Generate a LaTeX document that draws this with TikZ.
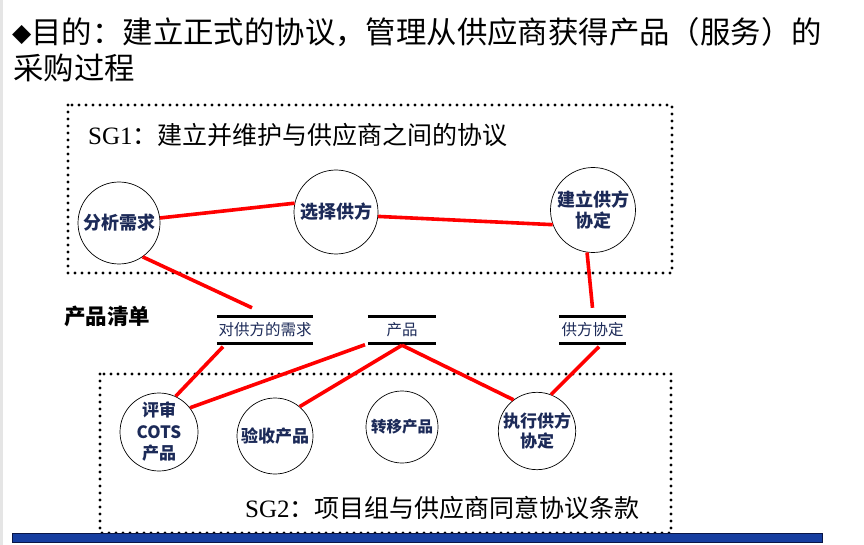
\documentclass[tikz,border=0pt]{standalone}
\usepackage{fontspec}
\setmainfont{Liberation Serif}
\newfontfamily\cjk{Noto Sans CJK SC}
\newfontfamily\dejavu{DejaVu Sans}
\usetikzlibrary{calc}
\definecolor{navy}{RGB}{28,42,88}
\definecolor{barblue}{RGB}{22,62,160}
\definecolor{bardark}{RGB}{10,22,70}
\tikzset{
  proc/.style={circle, draw=black, line width=0.7pt, inner sep=0pt, align=center,
    font=\cjk\bfseries\fontsize{18}{21.5}\selectfont, text=navy},
  docbar/.style={minimum height=27pt, inner sep=0pt, font=\cjk\fontsize{15.5}{18}\selectfont, text=navy},
  barline/.style={black, line width=3pt},
  sgbox/.style={line width=3.3pt, line cap=round, dash pattern=on 0pt off 7pt},
  link/.style={red, line width=3.6pt},
  bigtext/.style={anchor=west, inner sep=0pt, font=\cjk\fontsize{30.4}{36}\selectfont},
  sgtext/.style={anchor=west, inner sep=0pt, font=\cjk\fontsize{25}{30}\selectfont}
}
\begin{document}
\begin{tikzpicture}[x=1pt,y=-1pt]
\useasboundingbox (0,0) rectangle (864,545);
\fill[white] (0,0) rectangle (864,545);
\fill[gray!20] (0,0) rectangle (2.5,545);

% title
\node[bigtext] (t1) at (12,32) {\raisebox{1.5pt}{\dejavu\fontsize{25}{25}\selectfont ◆}目的：建立正式的协议，管理从供应商获得产品（服务）的};
\node[bigtext] (t2) at (13,68) {采购过程};

% boxes
\draw[sgbox] (68,105) rectangle (672,273);
\draw[sgbox] (100,374) rectangle (671,533);
\node[sgtext] (sg1) at (88,135) {{\rmfamily SG1}：建立并维护与供应商之间的协议};
\node[sgtext] (sg2) at (245,508) {{\rmfamily SG2}：项目组与供应商同意协议条款};

% process circles
\node[proc, minimum size=82pt] (c1) at (119,223) {分析需求};
\node[proc, minimum size=84pt] (c2) at (336,212) {选择供方};
\node[proc, minimum size=85pt] (c3) at (593,210) {建立供方\\协定};
\node[proc, minimum size=78pt, font=\cjk\bfseries\fontsize{17}{21.5}\selectfont] (c4) at (159,432) {评审\\COTS\\产品};
\node[proc, minimum size=76pt, font=\cjk\bfseries\fontsize{17}{21}\selectfont] (c5) at (275,436) {验收产品};
\node[proc, minimum size=72pt, font=\cjk\bfseries\fontsize{15.5}{19}\selectfont] (c6) at (402,427) {转移产品};
\node[proc, minimum size=76pt, font=\cjk\bfseries\fontsize{17}{20.5}\selectfont] (c7) at (537,431) {执行供方\\协定};

% product list
\node[anchor=west, inner sep=0pt, font=\cjk\bfseries\fontsize{21.5}{25}\selectfont] (pl) at (64,316) {产品清单};
\node[docbar, minimum width=96pt] (d1) at (265,330) {对供方的需求};
\node[docbar, minimum width=68pt] (d2) at (402,330) {产品};
\node[docbar, minimum width=67pt] (d3) at (592.5,330) {供方协定};
\foreach \d in {d1,d2,d3}
  \draw[barline] (\d.north west) -- (\d.north east) (\d.south west) -- (\d.south east);

% connectors
\draw[link] (c1.7) -- (c2.168);
\draw[link] (c2.-6) -- (c3.200);
\draw[link] (c1.-55) -- ([xshift=-13pt,yshift=8.5pt]d1.north);
\draw[link] (c3.262) -- ([yshift=8.5pt]d3.north);
\draw[link] ([xshift=-42pt,yshift=-3pt]d1.south) -- (c4.65);
\draw[link] ([xshift=-37pt,yshift=-1pt]d2.south) -- (c4.38);
\draw[link] ([yshift=-1.5pt]d2.south) -- (c5.50);
\draw[link] ([yshift=-1.5pt]d2.south) -- (c7.127);
\draw[link] ([xshift=6.5pt,yshift=-3pt]d3.south) -- (c7.69);

% bottom bar
\draw[fill=barblue, draw=bardark, line width=0.8pt] (12,533.5) rectangle (822,542);
\end{tikzpicture}
\end{document}
